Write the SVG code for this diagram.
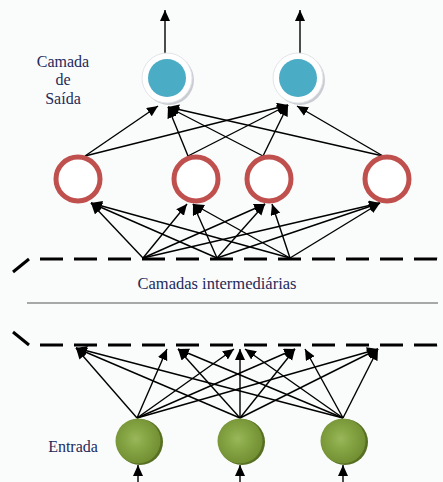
<svg xmlns="http://www.w3.org/2000/svg" width="443" height="482" viewBox="0 0 443 482">
<defs>
<marker id="ah" markerUnits="userSpaceOnUse" markerWidth="12" markerHeight="11" refX="11" refY="5" orient="auto">
<path d="M0,0 L11,5 L0,10 z" fill="#000"/>
</marker>
<radialGradient id="gg" cx="0.45" cy="0.45" r="0.6">
<stop offset="0" stop-color="#9ab85a"/>
<stop offset="0.35" stop-color="#88a746"/>
<stop offset="1" stop-color="#6f8d30"/>
</radialGradient>
</defs>
<style>
.c line{stroke:#000;stroke-width:1.4;marker-end:url(#ah)}
.t{font-family:"Liberation Serif","Times New Roman",serif;font-size:16px;fill:#1f2a5a;text-anchor:middle}
.red{fill:#fff;stroke:#c0504d;stroke-width:5}
.dash{stroke:#000;stroke-width:3;fill:none;stroke-dasharray:23 11}
.sl{stroke:#000;stroke-width:3;stroke-linecap:butt}
</style>
<rect width="443" height="482" fill="#fafcfb"/>

<g id="layers">
<line class="sl" x1="13" y1="272" x2="29" y2="259"/>
<path class="dash" d="M40,259 H436 Q440,259 442,263"/>
<line x1="27" y1="303" x2="438" y2="303" stroke="#555" stroke-width="1"/>
<line class="sl" x1="13" y1="332" x2="29" y2="345"/>
<path class="dash" d="M40,345 H436 Q440,345 442,342"/>
<text class="t" x="217" y="289" style="font-size:16.5px">Camadas intermediárias</text>
</g>

<g id="connectors" class="c">
<line x1="165" y1="55" x2="165" y2="10"/>
<line x1="300" y1="55" x2="300" y2="10"/>
<line x1="85" y1="156" x2="158" y2="106"/>
<line x1="85" y1="156" x2="288" y2="105"/>
<line x1="188" y1="156" x2="168" y2="107"/>
<line x1="188" y1="156" x2="288" y2="105"/>
<line x1="263" y1="156" x2="168" y2="107"/>
<line x1="263" y1="156" x2="288" y2="105"/>
<line x1="383" y1="156" x2="168" y2="107"/>
<line x1="383" y1="156" x2="297" y2="106"/>
<line x1="143" y1="258" x2="91" y2="203"/>
<line x1="217" y1="258" x2="91" y2="203"/>
<line x1="290" y1="258" x2="91" y2="203"/>
<line x1="143" y1="258" x2="187" y2="204"/>
<line x1="217" y1="258" x2="193" y2="204"/>
<line x1="290" y1="258" x2="193" y2="204"/>
<line x1="143" y1="258" x2="265" y2="204"/>
<line x1="217" y1="258" x2="265" y2="204"/>
<line x1="290" y1="258" x2="272" y2="204"/>
<line x1="143" y1="258" x2="380" y2="203"/>
<line x1="217" y1="258" x2="380" y2="203"/>
<line x1="290" y1="258" x2="380" y2="203"/>
<line x1="137" y1="418" x2="76" y2="348"/>
<line x1="137" y1="418" x2="167" y2="349"/>
<line x1="137" y1="418" x2="234" y2="349"/>
<line x1="137" y1="418" x2="295" y2="349"/>
<line x1="137" y1="418" x2="378" y2="349"/>
<line x1="240" y1="418" x2="76" y2="348"/>
<line x1="240" y1="418" x2="178" y2="349"/>
<line x1="240" y1="418" x2="240" y2="349"/>
<line x1="240" y1="418" x2="295" y2="349"/>
<line x1="240" y1="418" x2="378" y2="349"/>
<line x1="343" y1="418" x2="76" y2="348"/>
<line x1="343" y1="418" x2="178" y2="349"/>
<line x1="343" y1="418" x2="245" y2="349"/>
<line x1="343" y1="418" x2="305" y2="349"/>
<line x1="343" y1="418" x2="378" y2="349"/>
<line x1="138" y1="482" x2="138" y2="465"/>
<line x1="240" y1="482" x2="240" y2="465"/>
<line x1="343" y1="482" x2="343" y2="465"/>
</g>

<g id="out1">
<circle cx="169" cy="80" r="25" fill="#c9ccd2"/>
<circle cx="167" cy="78" r="25" fill="#fff" stroke="#e2e4e8" stroke-width="1"/>
<circle cx="167" cy="78" r="19" fill="#4bacc6"/>
</g>
<g id="out2">
<circle cx="300" cy="80" r="25" fill="#c9ccd2"/>
<circle cx="298" cy="78" r="25" fill="#fff" stroke="#e2e4e8" stroke-width="1"/>
<circle cx="298" cy="78" r="19" fill="#4bacc6"/>
</g>
<text class="t" x="63" y="67">Camada</text>
<text class="t" x="63" y="85">de</text>
<text class="t" x="63" y="104">Saída</text>

<g id="h1"><circle class="red" cx="78" cy="179" r="22"/></g>
<g id="h2"><circle class="red" cx="196" cy="179" r="22"/></g>
<g id="h3"><circle class="red" cx="269" cy="179" r="22"/></g>
<g id="h4"><circle class="red" cx="387" cy="179" r="22"/></g>

<g id="in1">
<circle cx="140" cy="442" r="23" fill="#566f22"/>
<circle cx="138" cy="441" r="22.5" fill="url(#gg)"/>
</g>
<g id="in2">
<circle cx="242" cy="442" r="23" fill="#566f22"/>
<circle cx="240" cy="441" r="22.5" fill="url(#gg)"/>
</g>
<g id="in3">
<circle cx="345" cy="442" r="23" fill="#566f22"/>
<circle cx="343" cy="441" r="22.5" fill="url(#gg)"/>
</g>
<text class="t" x="73" y="452">Entrada</text>
</svg>
